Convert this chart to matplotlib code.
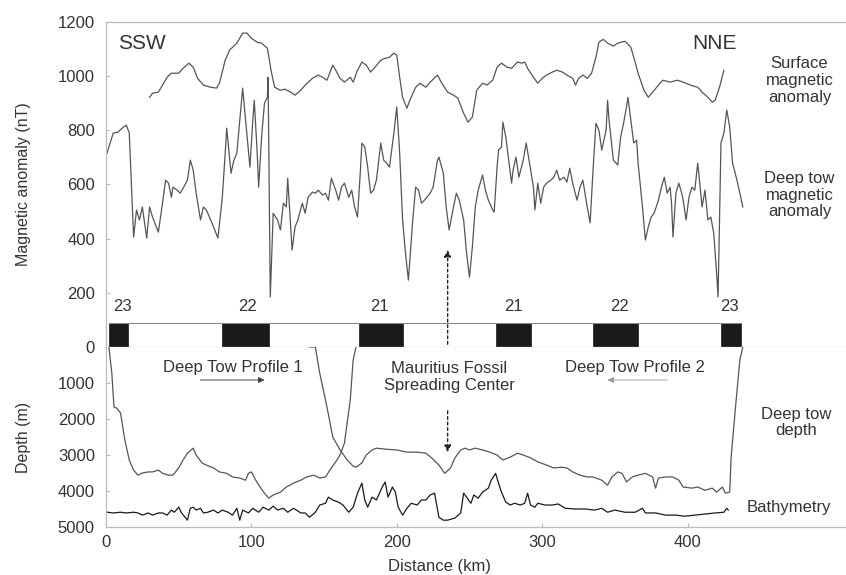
import matplotlib.pyplot as plt
import matplotlib.patches as mpatches

plt.rcParams['font.family'] = ['Liberation Sans', 'DejaVu Sans']

# deep tow magnetic anomaly (km, nT)
deep_mag_km = [0.7, 5, 8, 12, 14, 16, 19, 21, 23, 25, 28, 30, 32, 36, 38.5, 41, 43, 45, 46, 49,
               51, 53, 56, 58, 60, 62, 65, 67, 69, 72, 74, 77, 80, 82, 83, 86, 88, 90, 92, 94,
               96, 99, 101, 102, 104, 105, 107, 109, 111, 111.5, 113, 115, 118, 120, 122, 124, 125, 128, 130,
               132, 135, 137, 139, 142, 144, 146, 149, 151, 153, 155, 158, 160, 162, 164, 167, 169, 171, 173,
               175, 176, 178, 180, 182, 184, 186, 189, 191, 193, 195, 198, 200, 202, 204, 206, 208, 209,
               211, 213, 215, 217, 219, 223, 225, 228, 229, 232, 234, 236, 239, 241, 243, 246, 248, 250,
               252, 254, 256, 259, 261, 263, 266, 267, 269, 270, 272, 273, 275, 277, 279, 280, 282, 284,
               287, 289, 291, 294, 295, 297, 299, 301, 303, 306, 308, 310, 312, 315, 317, 319, 321, 324,
               326, 328, 331, 333, 335, 337, 339, 341, 344, 345, 346, 348, 349, 352, 354, 356, 358, 359,
               361, 363, 365, 366, 369, 371, 373, 375, 377, 380, 382, 384, 386, 388, 389, 390, 392, 394,
               396, 397, 399, 401, 403, 405, 407, 408, 410, 412, 414, 416, 418, 420, 421, 423, 425, 427,
               429, 431, 434, 436, 438]
deep_mag_nt = [716, 790, 793, 812, 819, 790, 406, 506, 469, 517, 402, 517, 480, 424, 517, 616, 605, 553, 590, 579,
               568, 586, 616, 690, 653, 568, 469, 517, 506, 469, 443, 402, 553, 716, 808, 642, 690, 716, 838, 956,
               838, 664, 838, 911, 716, 590, 775, 900, 922, 996, 185, 494, 469, 432, 531, 517, 623, 358, 443,
               469, 531, 494, 553, 572, 568, 579, 561, 568, 542, 623, 579, 542, 590, 605, 553, 579, 517, 480,
               653, 753, 738, 664, 568, 579, 616, 753, 690, 679, 664, 790, 886, 716, 469, 347, 247, 321,
               469, 590, 579, 531, 542, 568, 590, 690, 701, 642, 517, 432, 517, 568, 542, 469, 347, 258,
               369, 517, 579, 635, 579, 542, 506, 498, 664, 727, 738, 830, 775, 690, 605, 653, 701, 627,
               690, 753, 690, 590, 506, 605, 531, 590, 605, 616, 627, 653, 616, 627, 609, 660, 605, 542,
               590, 616, 517, 458, 653, 826, 801, 727, 801, 911, 838, 738, 690, 672, 775, 826, 886, 922,
               838, 753, 764, 679, 517, 395, 443, 480, 494, 542, 590, 627, 568, 590, 531, 406, 568, 605,
               568, 542, 469, 553, 590, 579, 679, 627, 517, 579, 469, 480, 421, 273, 185, 753, 790, 875,
               812, 679, 616, 568, 517]

# surface magnetic anomaly (km, nT)
surf_mag_km = [30, 32, 36, 38, 42, 45, 50, 53, 57, 60, 63, 67, 72, 76, 78, 82, 85, 90, 94, 97,
               100, 104, 107, 111, 113.5, 116, 120, 123, 127, 130, 134, 137, 142, 146, 149, 152, 156, 158, 161, 164,
               168, 170, 173, 176, 179, 182, 185, 189, 192, 195, 198, 200, 202, 204, 207, 209, 213, 216, 220, 223,
               228, 231, 235, 239, 242, 246, 249, 252, 255, 259, 262, 266, 269, 272, 276, 279, 283, 286, 288, 290,
               294, 297, 300, 303, 307, 310, 314, 317, 321, 323, 325, 328, 331, 334, 337, 339, 342, 345, 349, 352,
               357, 361, 363, 366, 370, 373, 376, 380, 383, 388, 393, 397, 402, 407, 410, 414, 417, 419, 422, 425]
surf_mag_nt = [922, 937, 941, 959, 996, 1011, 1011, 1029, 1048, 1033, 992, 967, 959, 956, 974, 1059, 1096, 1122, 1159, 1159,
               1140, 1125, 1122, 1103, 1022, 959, 948, 952, 941, 930, 948, 967, 992, 1004, 996, 985, 1041, 1022, 992, 978,
               996, 978, 1022, 1052, 1041, 1015, 1033, 1059, 1066, 1070, 1085, 1078, 996, 922, 882, 911, 959, 974, 959, 978,
               1004, 974, 941, 930, 919, 863, 830, 849, 948, 974, 967, 985, 1033, 1048, 1033, 1029, 1052, 1048, 1052, 1029,
               996, 974, 992, 1004, 1015, 1022, 1015, 1004, 992, 967, 992, 1004, 992, 1011, 1070, 1125, 1136, 1122, 1111, 1122,
               1129, 1107, 1070, 1011, 948, 922, 941, 967, 985, 978, 985, 978, 967, 959, 941, 922, 904, 911, 959, 1022]

# deep tow depth, profile 1 (km, m)
prof1_km = [2, 4, 5.5, 7.5, 10, 13, 16, 19, 22, 25, 29, 32, 36, 39, 43, 46, 50, 53, 56, 60,
            62, 66, 69, 74, 78, 83, 87, 92, 96, 98, 100, 103, 106, 109, 112, 115, 120, 124, 129, 134,
            138, 143, 147, 151, 154, 158, 161, 164, 168, 170, 172]
prof1_m = [0, 723, 1670, 1700, 1835, 2590, 3140, 3420, 3560, 3500, 3470, 3470, 3420, 3510, 3560, 3560, 3360, 3140, 2950, 2810,
           3000, 3220, 3280, 3360, 3470, 3510, 3610, 3640, 3700, 3510, 3470, 3700, 3890, 4060, 4200, 4110, 4030, 3890, 3780, 3700,
           3610, 3560, 3640, 3610, 3420, 3190, 3000, 2670, 1475, 360, 0]

# deep tow depth, profile 2 (km, m)
prof2_km = [140, 144, 147, 152, 156, 161, 166, 170, 172, 176, 179, 183, 186, 193, 200, 207, 214, 220, 224, 229,
            233, 237, 240, 244, 247, 250, 254, 259, 264, 269, 273, 278, 283, 287, 292, 297, 303, 308, 313, 317,
            321, 326, 331, 335, 341, 345, 348, 352, 355, 358, 362, 366, 371, 376, 378, 380, 385, 390, 394, 397,
            403, 407, 412, 417, 420, 424, 426, 429, 430, 433, 436, 438]
prof2_m = [0, 0, 723, 1670, 2500, 2860, 3140, 3310, 3340, 3220, 3000, 2860, 2810, 2840, 2860, 2920, 2920, 2950, 3080, 3280,
           3510, 3360, 3080, 2860, 2810, 2860, 2810, 2860, 2920, 3000, 3140, 3060, 2950, 3000, 3080, 3190, 3280, 3360, 3340, 3360,
           3470, 3560, 3610, 3610, 3700, 3840, 3610, 3470, 3510, 3750, 3610, 3560, 3510, 3610, 3920, 3640, 3610, 3610, 3700, 3890,
           3920, 3890, 3980, 3920, 4030, 3890, 4060, 4030, 3060, 1670, 360, 0]

# bathymetry (km, m)
bathy_km = [1, 5, 10, 14, 19, 22, 25, 29, 32, 36, 39, 42, 45, 47, 50, 52, 56, 58, 60, 62,
            65, 67, 70, 74, 77, 80, 84, 87, 90, 92, 94, 98, 101, 105, 108, 112, 115, 118, 122, 125,
            129, 134, 137, 140, 144, 147, 151, 153, 156, 160, 163, 167, 170, 173, 176, 178, 180, 183, 186, 190,
            192, 194, 197, 199, 201, 204, 207, 210, 214, 217, 220, 223, 226, 229, 232, 235, 240, 244, 246, 248,
            251, 253, 256, 259, 263, 265, 268, 270, 272, 275, 278, 281, 285, 288, 290, 292, 295, 297, 302, 307,
            311, 316, 323, 330, 336, 341, 345, 350, 357, 364, 369, 371, 378, 385, 392, 398, 405, 412, 419, 425,
            427, 428]
bathy_m = [4590, 4610, 4590, 4610, 4590, 4610, 4670, 4610, 4670, 4610, 4610, 4670, 4530, 4590, 4450, 4610, 4810, 4480, 4450, 4530,
           4480, 4610, 4590, 4530, 4610, 4530, 4590, 4670, 4480, 4810, 4530, 4610, 4480, 4590, 4450, 4530, 4420, 4530, 4480, 4590,
           4480, 4610, 4610, 4730, 4590, 4390, 4340, 4170, 4250, 4310, 4390, 4590, 4450, 4060, 3780, 4250, 4450, 4170, 4250, 3890,
           3750, 4170, 3890, 4030, 4450, 4670, 4480, 4340, 4390, 4250, 4250, 4110, 4060, 4730, 4810, 4810, 4750, 4610, 4060, 4170,
           4340, 4110, 4200, 4030, 3920, 3700, 3510, 3780, 4030, 4310, 4390, 4340, 4390, 4340, 4060, 4390, 4450, 4340, 4390, 4390,
           4360, 4480, 4500, 4500, 4530, 4480, 4590, 4530, 4590, 4590, 4480, 4610, 4610, 4670, 4670, 4700, 4670, 4640, 4610, 4590,
           4480, 4530]

# magnetic chrons (normal polarity blocks, km)
block_start = [2, 80, 174, 268, 335, 423]
block_end = [15, 112, 204, 292, 366, 437]
chron_labels = ['23', '22', '21', '21', '22', '23']
chron_km = [11, 97, 188, 280, 353, 429]

line_col = '#555555'
text_col = '#333333'
frame_col = '#bbbbbb'
fs = 12

fig = plt.figure(figsize=(8.46, 5.75), dpi=100)
ax1 = fig.add_axes([106 / 846, 1 - 347 / 575, 1 - 106 / 846, 325 / 575])
ax2 = fig.add_axes([106 / 846, 1 - 527 / 575, 1 - 106 / 846, 180 / 575], sharex=ax1)

for ax in (ax1, ax2):
    ax.set_xlim(0, 509)
    ax.spines['right'].set_visible(False)
    for s in ('left', 'top', 'bottom'):
        ax.spines[s].set_color(frame_col)
        ax.spines[s].set_linewidth(0.9)
    ax.tick_params(direction='in', length=3, color=frame_col, labelsize=fs, labelcolor=text_col)

# top panel: magnetics
ax1.set_ylim(0, 1200)
ax1.set_yticks([0, 200, 400, 600, 800, 1000, 1200])
ax1.tick_params(axis='x', bottom=False, labelbottom=False)
ax1.tick_params(axis='y', pad=8)
ax1.plot(surf_mag_km, surf_mag_nt, color=line_col, lw=0.9)
ax1.plot(deep_mag_km, deep_mag_nt, color=line_col, lw=0.9)
ax1.set_ylabel('Magnetic anomaly (nT)', fontsize=11.5, color=text_col)
ax1.yaxis.set_label_coords(-0.102, 0.5)

band_h = 89
ax1.plot([block_start[0], block_end[-1]], [band_h, band_h], color='#888888', lw=0.8)
for s, e in zip(block_start, block_end):
    ax1.add_patch(mpatches.Rectangle((s, 0), e - s, band_h, facecolor='#1a1a1a', edgecolor='#1a1a1a', lw=0.5))
for lab, x in zip(chron_labels, chron_km):
    ax1.text(x, 148, lab, ha='center', va='center', fontsize=fs, color=text_col)

ax1.text(8, 1122, 'SSW', ha='left', va='center', fontsize=15, color=text_col)
ax1.text(434, 1122, 'NNE', ha='right', va='center', fontsize=15, color=text_col)
ax1.text(477, 985, 'Surface\nmagnetic\nanomaly', ha='center', va='center', fontsize=fs,
         color=text_col, linespacing=1.15)
ax1.text(477, 561, 'Deep tow\nmagnetic\nanomaly', ha='center', va='center', fontsize=fs,
         color=text_col, linespacing=1.15)
ax1.annotate('', xy=(235, 369), xytext=(235, 0),
             arrowprops=dict(arrowstyle='-|>', linestyle=(0, (2, 2)), color='#222222', lw=1.0,
                             mutation_scale=10))

# bottom panel: depth
ax2.set_ylim(5000, 0)
ax2.set_yticks([1000, 2000, 3000, 4000, 5000])
ax2.set_xticks([0, 100, 200, 300, 400])
ax2.tick_params(axis='y', pad=8)
ax2.tick_params(axis='x', pad=6)
ax2.spines['top'].set_visible(False)
ax2.plot(prof1_km, prof1_m, color=line_col, lw=0.9)
ax2.plot(prof2_km, prof2_m, color=line_col, lw=0.9)
ax2.plot(bathy_km, bathy_m, color='#1a1a1a', lw=0.9)
ax2.set_ylabel('Depth (m)', fontsize=11.5, color=text_col)
ax2.yaxis.set_label_coords(-0.102, 0.5)
ax2.set_xlabel('Distance (km)', fontsize=fs, color=text_col)
ax2.xaxis.set_label_coords(0.45, -0.18)

ax2.text(87, 556, 'Deep Tow Profile 1', ha='center', va='center', fontsize=fs, color=text_col)
ax2.annotate('', xy=(111, 917), xytext=(63, 917),
             arrowprops=dict(arrowstyle='-|>', color='#444444', lw=0.7, mutation_scale=9))
ax2.text(364, 556, 'Deep Tow Profile 2', ha='center', va='center', fontsize=fs, color=text_col)
ax2.annotate('', xy=(343, 917), xytext=(388, 917),
             arrowprops=dict(arrowstyle='-|>', color='#999999', lw=0.6, mutation_scale=9))
ax2.text(236, 834, 'Mauritius Fossil\nSpreading Center', ha='center', va='center', fontsize=fs,
         color=text_col, linespacing=1.1)
ax2.annotate('', xy=(235, 3000), xytext=(235, 1700),
             arrowprops=dict(arrowstyle='-|>', linestyle=(0, (2, 2)), color='#222222', lw=1.0,
                             mutation_scale=10))
ax2.text(475, 2100, 'Deep tow\ndepth', ha='center', va='center', fontsize=fs, color=text_col,
         linespacing=1.15)
ax2.text(470, 4450, 'Bathymetry', ha='center', va='center', fontsize=fs, color=text_col)

fig.savefig('out.png', dpi=100, facecolor='white')
